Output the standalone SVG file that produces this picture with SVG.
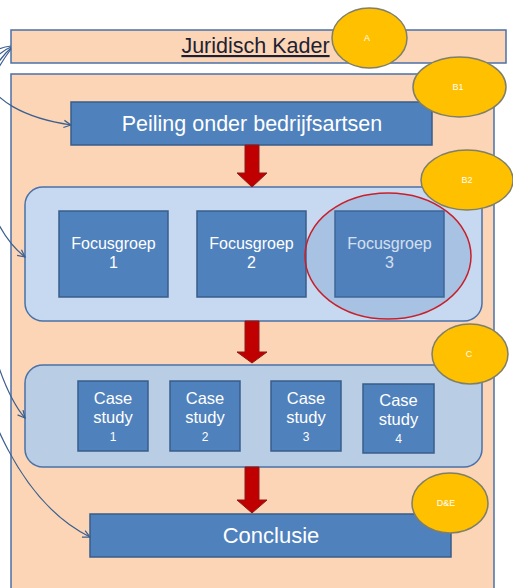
<svg xmlns="http://www.w3.org/2000/svg" width="513" height="588" viewBox="0 0 513 588">
<defs>
<style>
.peach{fill:#FBD5B5;stroke:#4A72A8;stroke-width:1.5}
.blue{fill:#4F81BD;stroke:#385D8A;stroke-width:1.5}
.cont{stroke:#4A72A8;stroke-width:1.5}
.wt{font-family:"Liberation Sans",Arial,sans-serif;fill:#FFFFFF;text-anchor:middle}
.badge{fill:#FFC000;stroke:#7F7F6A;stroke-width:1.5}
.bt{font-family:"Liberation Sans",Arial,sans-serif;fill:#FFFFFF;text-anchor:middle;font-size:9px}
.red{fill:#C00000;stroke:#8E1A1A;stroke-width:1}
.conn{fill:none;stroke:#3B5F8F;stroke-width:1.2}
</style>
<marker id="ah" viewBox="0 0 10 10" refX="9" refY="5" markerWidth="9" markerHeight="9" markerUnits="userSpaceOnUse" orient="auto">
<path d="M1,1 L9,5 L1,9" fill="none" stroke="#3B5F8F" stroke-width="1.4"/>
</marker>
</defs>
<rect width="513" height="588" fill="#FFFFFF"/>

<g id="juridisch">
<rect class="peach" x="11" y="30" width="495" height="33"/>
<text x="255.5" y="53" font-family="Liberation Sans,Arial,sans-serif" font-size="21.5" fill="#1F1F33" text-anchor="middle" text-decoration="underline">Juridisch Kader</text>
</g>

<g id="outer">
<rect class="peach" x="11" y="74" width="483" height="530"/>
</g>

<g id="peiling">
<rect class="blue" x="71" y="102" width="361" height="43"/>
<text class="wt" x="252" y="131" font-size="21.5">Peiling onder bedrijfsartsen</text>
</g>

<g id="focus-container">
<rect class="cont" x="25" y="187" width="457" height="134" rx="18" fill="#C6D9F1"/>
</g>
<g id="focus1">
<rect class="blue" x="59" y="211" width="109" height="86"/>
<text class="wt" font-size="16" x="113.5" y="249">Focusgroep</text>
<text class="wt" font-size="16" x="113.5" y="268">1</text>
</g>
<g id="focus2">
<rect class="blue" x="197" y="211" width="109" height="86"/>
<text class="wt" font-size="16" x="251.5" y="249">Focusgroep</text>
<text class="wt" font-size="16" x="251.5" y="268">2</text>
</g>
<g id="focus3">
<rect class="blue" x="335" y="211" width="109" height="86"/>
<text class="wt" font-size="16" x="389.5" y="249">Focusgroep</text>
<text class="wt" font-size="16" x="389.5" y="268">3</text>
</g>
<g id="highlight">
<ellipse cx="388" cy="256" rx="83" ry="63" fill="#4F81BD" fill-opacity="0.25" stroke="#C8202A" stroke-width="1.5"/>
</g>

<g id="case-container">
<rect class="cont" x="25" y="365" width="457" height="102" rx="18" fill="#B9CDE5"/>
</g>
<g id="case1">
<rect class="blue" x="78" y="381" width="70" height="70"/>
<text class="wt" font-size="16.5" x="113" y="404">Case</text>
<text class="wt" font-size="16.5" x="113" y="423">study</text>
<text class="wt" font-size="12" x="113" y="441">1</text>
</g>
<g id="case2">
<rect class="blue" x="170" y="381" width="70" height="70"/>
<text class="wt" font-size="16.5" x="205" y="404">Case</text>
<text class="wt" font-size="16.5" x="205" y="423">study</text>
<text class="wt" font-size="12" x="205" y="441">2</text>
</g>
<g id="case3">
<rect class="blue" x="271" y="381" width="70" height="70"/>
<text class="wt" font-size="16.5" x="306" y="404">Case</text>
<text class="wt" font-size="16.5" x="306" y="423">study</text>
<text class="wt" font-size="12" x="306" y="441">3</text>
</g>
<g id="case4">
<rect class="blue" x="363" y="384" width="71" height="69"/>
<text class="wt" font-size="16.5" x="398.5" y="406">Case</text>
<text class="wt" font-size="16.5" x="398.5" y="425">study</text>
<text class="wt" font-size="12" x="398.5" y="443">4</text>
</g>

<g id="conclusie">
<rect class="blue" x="90" y="514" width="361" height="43"/>
<text class="wt" x="271" y="543" font-size="22">Conclusie</text>
</g>

<g id="flow-arrows">
<path class="red" d="M245,145 H259 V173 H267 L252,187 L237,173 H245 Z"/>
<path class="red" d="M245,321 H259 V352 H267 L252,363 L237,352 H245 Z"/>
<path class="red" d="M245,467 H259 V500 H267 L252,513 L237,500 H245 Z"/>
</g>

<g id="connectors">
<path class="conn" marker-end="url(#ah)" d="M11,46 C-30,50 -30,110 71,125"/>
<path class="conn" marker-end="url(#ah)" d="M11,47 C-45,70 -30,215 25,257"/>
<path class="conn" marker-end="url(#ah)" d="M11,48 C-60,110 -25,360 25,418"/>
<path class="conn" marker-end="url(#ah)" d="M11,49 C-80,170 -45,470 90,537"/>
</g>

<g id="badge-A">
<ellipse class="badge" cx="369.5" cy="38" rx="37.5" ry="30"/>
<text class="bt" x="367" y="41">A</text>
</g>
<g id="badge-B1">
<ellipse class="badge" cx="459.5" cy="87" rx="46.5" ry="30"/>
<text class="bt" x="458" y="90">B1</text>
</g>
<g id="badge-B2">
<ellipse class="badge" cx="467" cy="180" rx="46" ry="30"/>
<text class="bt" x="467" y="183">B2</text>
</g>
<g id="badge-C">
<ellipse class="badge" cx="470" cy="354" rx="38" ry="30"/>
<text class="bt" x="469" y="357">C</text>
</g>
<g id="badge-DE">
<ellipse class="badge" cx="450" cy="503" rx="38" ry="30"/>
<text class="bt" x="446" y="506">D&amp;E</text>
</g>
</svg>
